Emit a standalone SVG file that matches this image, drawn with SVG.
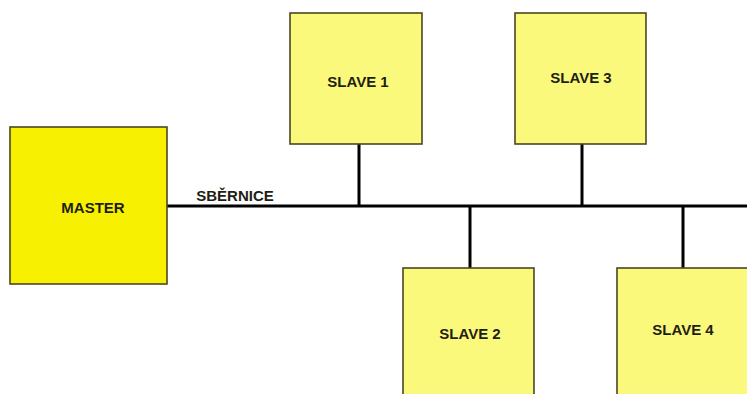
<svg xmlns="http://www.w3.org/2000/svg" width="747" height="394" viewBox="0 0 747 394">
<style>
.box{stroke:#4a4622;stroke-width:1.6}
.master{fill:#f7f000}
.slave{fill:#fbf97c}
.lbl{font-family:"Liberation Sans",Arial,sans-serif;font-weight:bold;font-size:15px;fill:#1e1e14;text-anchor:middle}
.wire{stroke:#000;stroke-width:3;fill:none}
</style>
<rect width="747" height="394" fill="#fff"/>
<g id="connectors">
<line class="wire" x1="167" y1="206" x2="747" y2="206"/>
<line class="wire" x1="359" y1="144" x2="359" y2="206"/>
<line class="wire" x1="582" y1="144" x2="582" y2="206"/>
<line class="wire" x1="470" y1="206" x2="470" y2="268"/>
<line class="wire" x1="683" y1="206" x2="683" y2="268"/>
<text class="lbl" x="235" y="201" font-size="14">SBĚRNICE</text>
</g>
<g id="master">
<rect class="box master" x="10" y="127" width="157" height="157"/>
<text class="lbl" x="93" y="213">MASTER</text>
</g>
<g id="slave1">
<rect class="box slave" x="290" y="13" width="132" height="131"/>
<text class="lbl" x="358" y="87">SLAVE 1</text>
</g>
<g id="slave3">
<rect class="box slave" x="515" y="13" width="131" height="131"/>
<text class="lbl" x="581" y="83">SLAVE 3</text>
</g>
<g id="slave2">
<rect class="box slave" x="403" y="268" width="131" height="140"/>
<text class="lbl" x="470" y="339">SLAVE 2</text>
</g>
<g id="slave4">
<rect class="box slave" x="617" y="268" width="132" height="140"/>
<text class="lbl" x="683" y="335">SLAVE 4</text>
</g>
</svg>
